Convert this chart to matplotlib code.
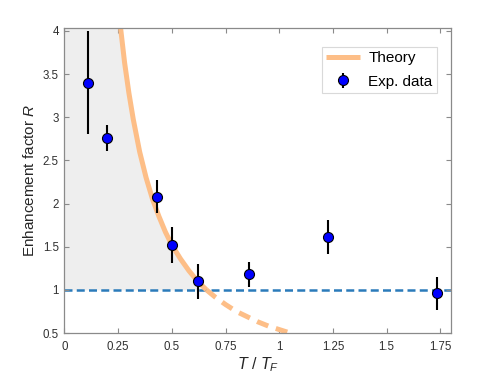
import matplotlib
matplotlib.use("Agg")
import matplotlib.pyplot as plt
import numpy as np

plt.rcParams['font.family'] = ['Liberation Sans', 'DejaVu Sans']
plt.rcParams['mathtext.fontset'] = 'custom'
plt.rcParams['mathtext.rm'] = 'Liberation Sans'
plt.rcParams['mathtext.it'] = 'Liberation Sans:italic'

# Experimental data
T_exp = [0.111, 0.200, 0.432, 0.500, 0.621, 0.859, 1.226, 1.737]
R_exp = [3.40, 2.76, 2.08, 1.52, 1.10, 1.18, 1.61, 0.96]
R_err = [0.60, 0.155, 0.195, 0.21, 0.205, 0.145, 0.20, 0.19]

# Theory curve
T_theory_solid = [0.26, 0.28, 0.30, 0.32, 0.35, 0.38, 0.41, 0.44, 0.47, 0.50,
                  0.54, 0.58, 0.62, 0.661]
R_theory_solid = [4.06, 3.63, 3.28, 2.98, 2.60, 2.30, 2.05, 1.85, 1.67, 1.52,
                  1.36, 1.22, 1.10, 1.00]
T_theory_dash = [0.661, 0.70, 0.75, 0.80, 0.85, 0.90, 0.95, 1.00, 1.043]
R_theory_dash = [1.00, 0.92, 0.83, 0.75, 0.69, 0.63, 0.58, 0.54, 0.506]

reference_R = 1.0

x_ticks = [0, 0.25, 0.5, 0.75, 1, 1.25, 1.5, 1.75]
x_tick_labels = ['0', '0.25', '0.5', '0.75', '1', '1.25', '1.5', '1.75']
y_ticks = [0.5, 1, 1.5, 2, 2.5, 3, 3.5, 4]
y_tick_labels = ['0.5', '1', '1.5', '2', '2.5', '3', '3.5', '4']

orange = '#FDBE87'
blue_dash = '#2B7BBA'
frame = '#8a8a8a'

fig = plt.figure(figsize=(4.98, 3.74), dpi=100)
ax = fig.add_axes([0.1295, 0.1096, 0.7761, 0.8147])

# gray shaded region between y=1 and the theory curve
ax.fill_betweenx(R_theory_solid, 0, T_theory_solid, color='#EEEEEE', lw=0, zorder=0)

ax.axhline(reference_R, color=blue_dash, lw=1.8, dashes=(3.2, 1.7), zorder=1)

ax.plot(T_theory_solid, R_theory_solid, color=orange, lw=3.6,
        solid_capstyle='butt', label='Theory', zorder=2)
ax.plot(T_theory_dash, R_theory_dash, color=orange, lw=3.6,
        dashes=(2.4, 1.6), zorder=2)

ax.errorbar(T_exp, R_exp, yerr=R_err, fmt='o', color='black', ecolor='black',
            elinewidth=1.5, capsize=0, markersize=7.2, markerfacecolor='#0000FF',
            markeredgecolor='black', markeredgewidth=0.8, label='Exp. data', zorder=3)

ax.set_xlim(0, 1.8)
ax.set_ylim(0.5, 4.03)
ax.set_xticks(x_ticks)
ax.set_xticklabels(x_tick_labels)
ax.set_yticks(y_ticks)
ax.set_yticklabels(y_tick_labels)

ax.tick_params(direction='in', length=3.5, width=0.8, colors=frame,
               labelcolor='#303030', labelsize=8.3, top=True, right=True, pad=4)
ax.tick_params(axis='x', pad=5.5)
for s in ax.spines.values():
    s.set_color(frame)
    s.set_linewidth(0.9)

ax.set_xlabel('$T$ / $T_F$', fontsize=11.5, color='#262626', labelpad=2)
ax.set_ylabel('Enhancement factor $R$', fontsize=11, color='#262626', labelpad=4)

leg = ax.legend(loc='upper right', bbox_to_anchor=(0.964, 0.939), fontsize=11,
                frameon=True, fancybox=False, edgecolor='#d0d0d0',
                handlelength=2.2, borderpad=0.3, labelspacing=0.6,
                handletextpad=0.55, borderaxespad=0)
leg.get_frame().set_linewidth(0.8)

fig.savefig('out.png', dpi=100)
